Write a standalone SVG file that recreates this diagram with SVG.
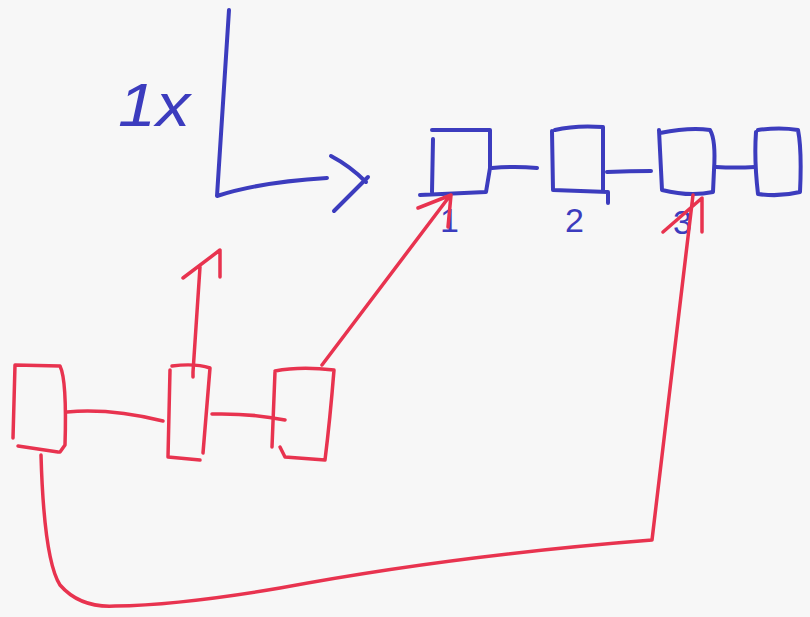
<svg xmlns="http://www.w3.org/2000/svg" width="810" height="617" viewBox="0 0 810 617">
<style>
.b{fill:none;stroke:#3c3cbe;stroke-width:4;stroke-linecap:round;stroke-linejoin:round}
.r{fill:none;stroke:#e8334f;stroke-width:3.5;stroke-linecap:round;stroke-linejoin:round}
.t{font-family:"Liberation Sans",Arial,sans-serif;fill:#3c3cbe}
</style>
<rect width="810" height="617" fill="#f7f7f7"/>
<g id="axes">
<path class="b" d="M229,10 L217,196 Q260,182 327,178"/>
<path class="b" d="M331,156 Q350,166 366,182 M368,177 Q350,195 334,211"/>
<text class="t" x="118" y="126" font-size="62" font-style="italic" textLength="72" lengthAdjust="spacingAndGlyphs">1x</text>
</g>
<g id="blue1">
<path class="b" d="M433,139 L432,192 M432,130 L490,130 L490,168 L486,192 L420,195"/>
<text class="t" x="440" y="232" font-size="34">1</text>
</g>
<g id="blue2">
<path class="b" d="M555,130 Q575,125 603,127 L603,192 M552,131 L553,190 L608,192 L608,203"/>
<text class="t" x="565" y="232" font-size="34">2</text>
</g>
<g id="blue3">
<path class="b" d="M660,133 Q690,127 710,130 Q716,140 714,170 L713,192 Q690,197 662,190 L659,130"/>
<text class="t" x="673" y="234" font-size="34">3</text>
</g>
<g id="blue4">
<path class="b" d="M758,130 Q780,127 798,130 Q802,150 800,192 Q780,197 758,194 Q754,160 756,132"/>
</g>
<g id="redA">
<path class="r" d="M13,438 L15,365 L60,366 Q67,380 65,445 L60,452 M18,446 L58,452"/>
</g>
<g id="redB">
<path class="r" d="M170,370 L168,457 L200,460 M172,366 Q195,363 210,368 L203,453"/>
</g>
<g id="redC">
<path class="r" d="M275,371 Q300,366 334,370 Q330,420 325,460 L285,457 L280,447 M275,372 L272,447"/>
</g>
<g id="connectors">
<path class="b" d="M492,168 Q515,166 537,168"/>
<path class="b" d="M607,172 Q630,171 651,171"/>
<path class="b" d="M716,167 Q735,168 755,167"/>
<path class="r" d="M67,412 Q110,408 163,421"/>
<path class="r" d="M212,414 Q250,413 285,420"/>
<path class="r" d="M193,377 L193,372 L200,267 M183,278 L220,250 L220,277"/>
<path class="r" d="M322,365 L449,197 M418,208 L451,195 L448,227"/>
<path class="r" d="M41,455 Q44,560 60,585 Q80,608 115,606 Q180,605 280,588 Q450,556 652,540 L693,195 M663,232 L702,198 L702,232"/>
</g>
</svg>
